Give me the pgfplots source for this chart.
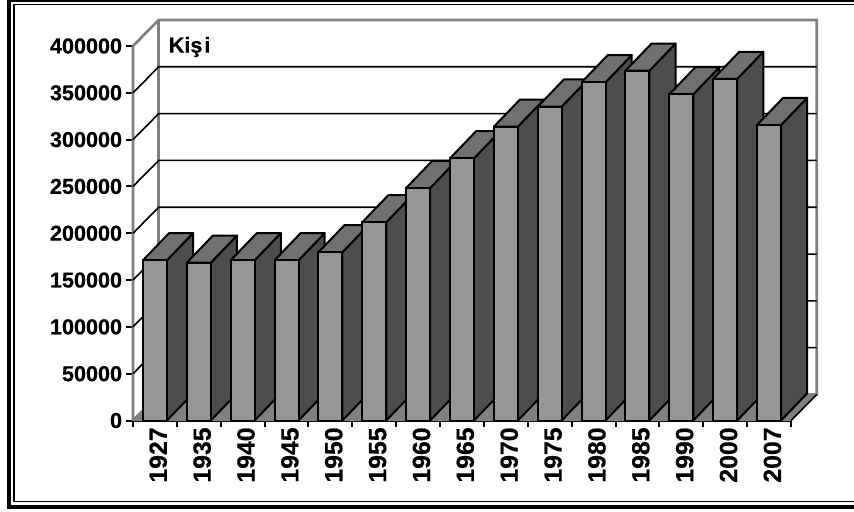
\documentclass[border=0pt]{standalone}
\usepackage{fontspec}
\setmainfont{Liberation Sans}
\usepackage{pgfplots}
\pgfplotsset{compat=1.18}
\definecolor{barfront}{HTML}{969696}
\definecolor{barside}{HTML}{4D4D4D}
\definecolor{bartop}{HTML}{707070}
\definecolor{wallgray}{HTML}{808080}
\newcommand{\dx}{0.595}
\newcommand{\dy}{29000}
\newcommand{\lblfont}{\fontsize{16.2}{18}\selectfont\bfseries\addfontfeatures{FakeBold=0.6}}
\newcommand{\xlblfont}{\fontsize{18.6}{20}\selectfont\bfseries\addfontfeatures{FakeBold=0.6}}
\newcommand{\threedbar}[2]{%
  \begingroup\pgfkeys{/pgf/fpu=true,/pgf/fpu/output format=fixed}%
  \pgfmathparse{#2+\dy}\xdef\Yb{\pgfmathresult}\endgroup
  \pgfmathsetmacro\xl{#1-0.2735}%
  \pgfmathsetmacro\xr{#1+0.2735}%
  \pgfmathsetmacro\xlb{\xl+\dx}%
  \pgfmathsetmacro\xrb{\xr+\dx}%
  \addplot[fill=barside,draw=black,line width=1.5pt,line join=round,forget plot]
    coordinates {(\xr,0)(\xrb,\dy)(\xrb,\Yb)(\xr,#2)(\xr,0)};
  \addplot[fill=bartop,draw=black,line width=1.5pt,line join=round,forget plot]
    coordinates {(\xl,#2)(\xr,#2)(\xrb,\Yb)(\xlb,\Yb)(\xl,#2)};
  \addplot[ybar,bar width=18pt,bar shift=0pt,fill=barfront,draw=black,line width=1.5pt,forget plot]
    coordinates {(#1,#2)};
}
\newcommand{\gridline}[1]{%
  \begingroup\pgfkeys{/pgf/fpu=true,/pgf/fpu/output format=fixed}%
  \pgfmathparse{#1+27770}\xdef\Yg{\pgfmathresult}\endgroup
  \addplot[black,line width=1.2pt,forget plot] coordinates {(-0.5,#1)(0.0858,\Yg)(15.0858,\Yg)};
}
\begin{document}
\begin{tikzpicture}[x=0.75pt,y=-0.75pt]
\useasboundingbox (0,0) rectangle (854,511);
\fill[white] (0,0) rectangle (854,511);
% double frame
\fill[black] (7,0) rectangle (11,509);
\fill[black] (7,505) rectangle (854,509);
\fill[black] (11,0) rectangle (854,1.7);
\fill[black] (13.3,4) rectangle (15,502);
\fill[black] (13.3,4) rectangle (854,5.4);
\fill[black] (13.3,500.6) rectangle (854,502);
\coordinate (A) at (133,420.5);
\begin{axis}[
  at={(A)}, anchor=south west,
  scale only axis, width=493.5pt, height=280.9pt,
  xmin=-0.5, xmax=14.5, ymin=0, ymax=400000,
  clip=false,
  axis x line*=bottom, axis y line*=left,
  axis line style={black,line width=1.5pt,-},
  tick style={black,line width=1.5pt},
  tick align=outside,
  major tick length=5pt,
  xtick={-0.5,0.5,...,14.5},
  x tick label as interval,
  xticklabels={1927,1935,1940,1945,1950,1955,1960,1965,1970,1975,1980,1985,1990,2000,2007},
  x tick label style={rotate=90,anchor=east,inner sep=0pt,yshift=-2.5pt,font=\xlblfont},
  ytick={0,50000,...,400000},
  scaled y ticks=false,
  y tick label style={inner sep=0pt,xshift=-3pt,font=\lblfont,
    /pgf/number format/.cd,fixed,1000 sep={},assume math mode=true},
]
% back wall and side wall
\addplot[fill=white,draw=wallgray,line width=2pt,forget plot]
  coordinates {(-0.5,0)(0.0858,27770)(15.0858,27770)(15.0858,427770)(0.0858,427770)(-0.5,400000)(-0.5,0)};
\addplot[draw=wallgray,line width=2pt,forget plot] coordinates {(0.0858,27770)(0.0858,427770)};
% floor
\addplot[fill=wallgray,draw=wallgray,line width=1pt,forget plot]
  coordinates {(-0.5,0)(14.5,0)(15.0858,27770)(0.0858,27770)(-0.5,0)};
\addplot[black,line width=1.2pt,forget plot] coordinates {(14.5,0)(15.0858,27770)};
\gridline{50000}
\gridline{100000}
\gridline{150000}
\gridline{200000}
\gridline{250000}
\gridline{300000}
\gridline{350000}
% bars, left to right
\threedbar{0}{171100}
\threedbar{1}{168500}
\threedbar{2}{171100}
\threedbar{3}{171100}
\threedbar{4}{179700}
\threedbar{5}{211700}
\threedbar{6}{248300}
\threedbar{7}{280000}
\threedbar{8}{313800}
\threedbar{9}{335200}
\threedbar{10}{361200}
\threedbar{11}{373600}
\threedbar{12}{348400}
\threedbar{13}{364800}
\threedbar{14}{315600}
\node[anchor=west,inner sep=0pt,font=\lblfont] at (axis cs:0.31,398900) {Kiş\kern1.5pt i};
\end{axis}
\end{tikzpicture}
\end{document}
